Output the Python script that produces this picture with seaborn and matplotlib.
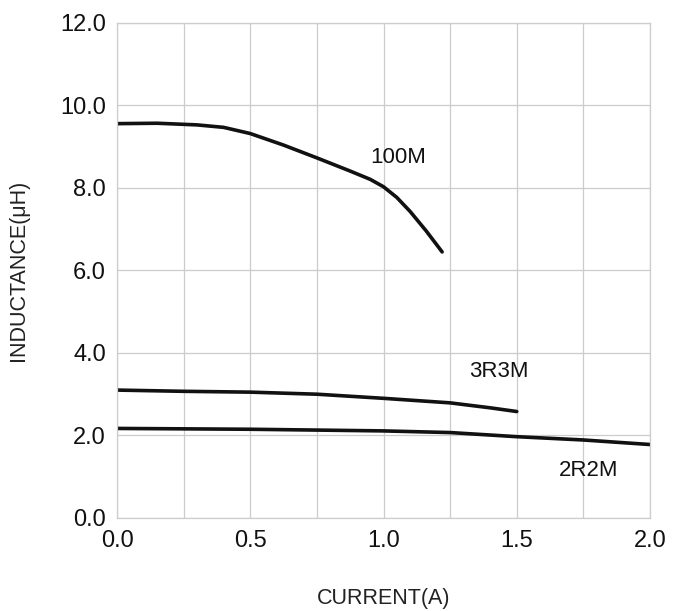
import seaborn as sns
import matplotlib.pyplot as plt
import pandas as pd

# curves (current in A, inductance in uH)
current_100m = [0.0, 0.15, 0.3, 0.4, 0.5, 0.625, 0.75, 0.875, 0.95, 1.0, 1.05, 1.1, 1.16, 1.22]
induct_100m = [9.55, 9.56, 9.52, 9.46, 9.31, 9.03, 8.72, 8.40, 8.20, 8.02, 7.76, 7.42, 6.95, 6.44]

current_3r3m = [0.0, 0.25, 0.5, 0.75, 1.0, 1.25, 1.4, 1.5]
induct_3r3m = [3.09, 3.06, 3.04, 2.99, 2.89, 2.78, 2.66, 2.57]

current_2r2m = [0.0, 0.25, 0.5, 0.75, 1.0, 1.25, 1.5, 1.75, 2.0]
induct_2r2m = [2.16, 2.15, 2.14, 2.12, 2.10, 2.06, 1.96, 1.88, 1.77]

series_names = ["100M", "3R3M", "2R2M"]
label_pos = {"100M": (1.054, 8.74), "3R3M": (1.433, 3.55), "2R2M": (1.771, 1.15)}

x_ticks = [0.0, 0.5, 1.0, 1.5, 2.0]
y_ticks = [0.0, 2.0, 4.0, 6.0, 8.0, 10.0, 12.0]

frames = []
for name, xs, ys in zip(series_names,
                        [current_100m, current_3r3m, current_2r2m],
                        [induct_100m, induct_3r3m, induct_2r2m]):
    frames.append(pd.DataFrame({"current": xs, "inductance": ys, "part": name}))
df = pd.concat(frames, ignore_index=True)

sns.set_style("white")
plt.rcParams['font.family'] = ['Liberation Sans', 'DejaVu Sans']

fig = plt.figure(figsize=(6.74, 6.11), dpi=100)
ax = fig.add_axes([0.1736, 0.153, 0.7908, 0.810])

sns.lineplot(data=df, x="current", y="inductance", hue="part", sort=False,
             palette=["#111111"] * 3, linewidth=2.6, legend=False, ax=ax,
             solid_capstyle="round", solid_joinstyle="round")

for name in series_names:
    ax.text(label_pos[name][0], label_pos[name][1], name, fontsize=16,
            ha="center", va="center", color="#111111")

ax.set_xlim(0, 2.0)
ax.set_ylim(0, 12.0)
ax.set_xticks(x_ticks)
ax.set_xticklabels(["%.1f" % v for v in x_ticks])
ax.set_xticks([0.25, 0.75, 1.25, 1.75], minor=True)
ax.set_yticks(y_ticks)
ax.set_yticklabels(["%.1f" % v for v in y_ticks])

ax.grid(True, which="both", color="#cccccc", linewidth=0.9)
ax.set_axisbelow(True)
for sp in ax.spines.values():
    sp.set_color("#cccccc")
    sp.set_linewidth(0.9)

ax.tick_params(axis="both", which="both", length=0, labelsize=17, colors="#111111")
ax.tick_params(axis="x", pad=9)
ax.tick_params(axis="y", pad=8)

ax.set_xlabel("CURRENT(A)", fontsize=15.5, color="#222222", labelpad=26)
ax.set_ylabel("INDUCTANCE(μH)", fontsize=15.5, color="#222222", labelpad=22)

fig.savefig("out.png", dpi=100)
